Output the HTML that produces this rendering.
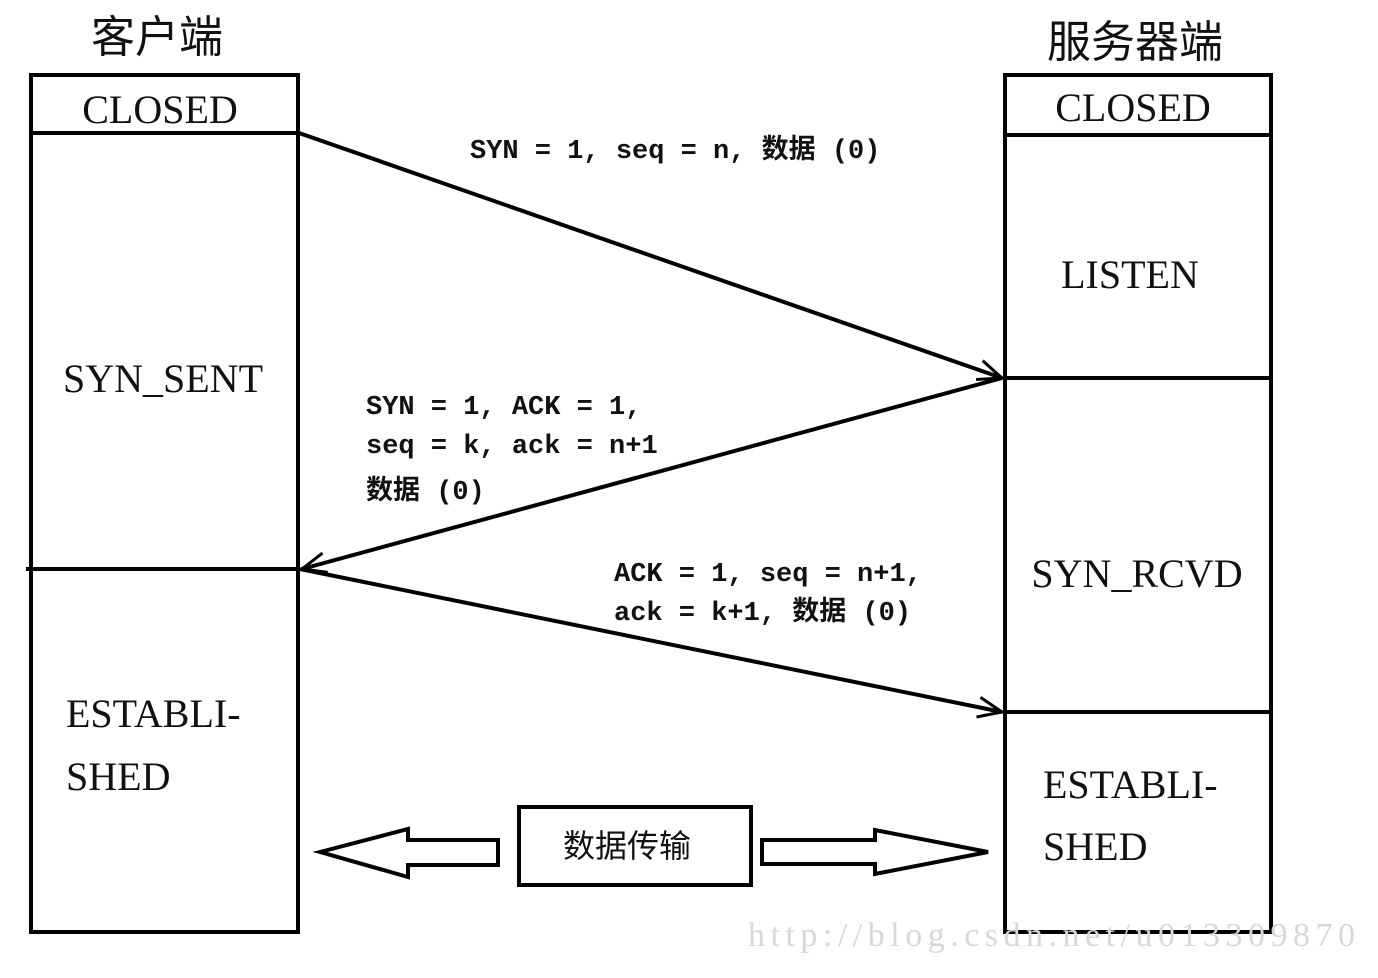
<!DOCTYPE html>
<html><head><meta charset="utf-8"><style>html,body{margin:0;padding:0;background:#fff}svg{display:block}</style></head><body>
<svg width="1378" height="978" viewBox="0 0 1378 978" xmlns="http://www.w3.org/2000/svg">
<defs>
<marker id="ah" markerWidth="30" markerHeight="30" refX="26" refY="12" orient="auto" markerUnits="userSpaceOnUse">
<path d="M2,2 L26,12 L2,22" fill="none" stroke="#000" stroke-width="3"/>
</marker>
</defs>
<g font-family="'Liberation Serif','Noto Serif CJK SC',serif" fill="#111">
<text x="157" y="52" font-size="44" text-anchor="middle" font-family="'Noto Sans CJK SC',sans-serif">客户端</text>
<text x="1135" y="57" font-size="44" text-anchor="middle" font-family="'Noto Sans CJK SC',sans-serif">服务器端</text>
</g>
<g fill="none" stroke="#000" stroke-width="4">
<rect x="31" y="75" width="267" height="857"/>
<line x1="31" y1="133" x2="298" y2="133"/>
<line x1="26" y1="569" x2="298" y2="569"/>
<rect x="1005" y="75" width="266" height="857"/>
<line x1="1005" y1="135" x2="1271" y2="135"/>
<line x1="1005" y1="378" x2="1271" y2="378"/>
<line x1="1005" y1="712" x2="1271" y2="712"/>
<rect x="519" y="807" width="232" height="78"/>
</g>
<g fill="none" stroke="#000" stroke-width="4">
<line x1="299" y1="133" x2="1002" y2="378" marker-end="url(#ah)"/>
<line x1="1002" y1="378" x2="302" y2="569" marker-end="url(#ah)"/>
<line x1="300" y1="569" x2="1002" y2="712" marker-end="url(#ah)"/>
</g>
<g fill="#fff" stroke="#000" stroke-width="4">
<polygon points="320,852 408,829 408,840 498,840 498,865 408,865 408,877"/>
<polygon points="762,840 875,840 875,830 988,852 875,874 875,864 762,864"/>
</g>
<g font-family="'Liberation Serif','Noto Serif CJK SC',serif" fill="#111" font-size="40">
<text x="160" y="123" text-anchor="middle">CLOSED</text>
<text x="1133" y="121" text-anchor="middle">CLOSED</text>
<text x="163" y="392" text-anchor="middle">SYN_SENT</text>
<text x="1130" y="288" text-anchor="middle">LISTEN</text>
<text x="1137" y="587" text-anchor="middle">SYN_RCVD</text>
<text x="66" y="727">ESTABLI-</text>
<text x="66" y="790">SHED</text>
<text x="1043" y="798">ESTABLI-</text>
<text x="1043" y="860">SHED</text>
</g>
<g font-family="'Liberation Mono','Noto Sans CJK SC',monospace" font-weight="bold" font-size="27" fill="#111">
<text x="470" y="158" xml:space="preserve">SYN = 1, seq = n, 数据 (0)</text>
<text x="366" y="414" xml:space="preserve">SYN = 1, ACK = 1,</text>
<text x="366" y="453" xml:space="preserve">seq = k, ack = n+1</text>
<text x="366" y="499" xml:space="preserve">数据 (0)</text>
<text x="614" y="581" xml:space="preserve">ACK = 1, seq = n+1,</text>
<text x="614" y="620" xml:space="preserve">ack = k+1, 数据 (0)</text>
</g>
<text x="627" y="857" font-size="32" text-anchor="middle" font-family="'Noto Sans CJK SC',sans-serif" fill="#111">数据传输</text>
<text x="748" y="946" font-size="34" font-family="'Liberation Serif',serif" fill="#d8d8d8" textLength="607">http://blog.csdn.net/u013309870</text>
</svg>
</body></html>
